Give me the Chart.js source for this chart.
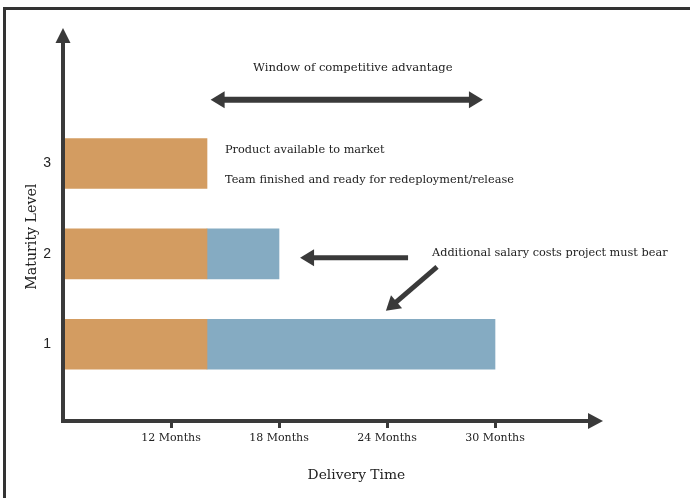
<!DOCTYPE html>
<html>
<head>
<meta charset="utf-8">
<script src="https://cdn.jsdelivr.net/npm/chart.js@4.4.1/dist/chart.umd.min.js"></script>
<style>
  html, body { margin: 0; padding: 0; background: #fff; overflow: hidden; }
  #wrap { position: relative; width: 690px; height: 498px; }
  #frame { position: absolute; left: 3px; top: 7px; width: 740px; height: 540px;
           border-left: 3px solid #333; border-top: 3px solid #333; pointer-events: none; }
</style>
</head>
<body>
<div id="wrap">
  <canvas id="myChart" width="690" height="498"></canvas>
  <div id="frame"></div>
</div>
<script>
// maturity levels, top to bottom
const levels = [3, 2, 1];
// time spans in months [start, end]
const productSpan = [[6, 14], [6, 14], [6, 14]];
const salarySpan = [null, [14, 18], [14, 30]];
const monthTicks = [12, 18, 24, 30];

// notes and arrows, in chart units (months, level)
const notes = [
    { text: 'Window of competitive advantage', x: 22.1, y: 4.06, align: 'center', size: 11.6 },
    { text: 'Product available to market', x: 15.0, y: 3.15, align: 'left', size: 11.3 },
    { text: 'Team finished and ready for redeployment/release', x: 15.0, y: 2.82, align: 'left', size: 11.3 },
    { text: 'Additional salary costs project must bear', x: 26.5, y: 2.01, align: 'left', size: 11.3 },
    { text: 'Delivery Time', x: 22.3, y: -0.45, align: 'center', size: 13.8 },
    { text: 'Maturity Level', x: 4.28, y: 2.19, align: 'center', size: 14.2, rotate: true }
];
const arrows = [
    { from: [14.2, 3.707], to: [29.33, 3.707], both: true, width: 6 },
    { from: [25.17, 1.956], to: [19.17, 1.956], both: false, width: 5 },
    { from: [26.78, 1.856], to: [23.94, 1.369], both: false, width: 5 }
];

const ink = '#3a3a3a';
const serif = "'DejaVu Serif', serif";

function arrowHead(ctx, x, y, ang, len, half) {
    ctx.beginPath();
    ctx.moveTo(x, y);
    ctx.lineTo(x - Math.cos(ang) * len - Math.sin(ang) * half, y - Math.sin(ang) * len + Math.cos(ang) * half);
    ctx.lineTo(x - Math.cos(ang) * len + Math.sin(ang) * half, y - Math.sin(ang) * len - Math.cos(ang) * half);
    ctx.closePath();
    ctx.fill();
}

function drawArrow(ctx, x1, y1, x2, y2, width, both) {
    const ang = Math.atan2(y2 - y1, x2 - x1);
    const len = 14, half = 8.5;
    const sx = both ? x1 + Math.cos(ang) * (len - 1) : x1;
    const sy = both ? y1 + Math.sin(ang) * (len - 1) : y1;
    ctx.beginPath();
    ctx.moveTo(sx, sy);
    ctx.lineTo(x2 - Math.cos(ang) * (len - 1), y2 - Math.sin(ang) * (len - 1));
    ctx.lineWidth = width;
    ctx.stroke();
    arrowHead(ctx, x2, y2, ang, len, half);
    if (both) arrowHead(ctx, x1, y1, ang + Math.PI, len, half);
}

const axisArrows = {
    id: 'axisArrows',
    afterDatasetsDraw(chart) {
        const { ctx, chartArea } = chart;
        const { left, right, top, bottom } = chartArea;
        ctx.save();
        ctx.strokeStyle = ink;
        ctx.fillStyle = ink;
        ctx.lineWidth = 4;
        ctx.beginPath();
        ctx.moveTo(left, bottom + 2);
        ctx.lineTo(left, top + 12);
        ctx.moveTo(left - 2, bottom);
        ctx.lineTo(right - 12, bottom);
        ctx.stroke();
        arrowHead(ctx, left, top, -Math.PI / 2, 15, 7.5);
        arrowHead(ctx, right, bottom, 0, 15, 8);

        const xs = chart.scales.x, ys = chart.scales.y;
        arrows.forEach(a => {
            drawArrow(ctx, xs.getPixelForValue(a.from[0]), ys.getPixelForValue(a.from[1]),
                      xs.getPixelForValue(a.to[0]), ys.getPixelForValue(a.to[1]), a.width, a.both);
        });

        ctx.fillStyle = '#222';
        ctx.textBaseline = 'middle';
        notes.forEach(n => {
            ctx.save();
            ctx.font = n.size + 'px ' + serif;
            ctx.textAlign = n.align;
            ctx.translate(xs.getPixelForValue(n.x), ys.getPixelForValue(n.y));
            if (n.rotate) ctx.rotate(-Math.PI / 2);
            ctx.fillText(n.text, 0, 0);
            ctx.restore();
        });
        ctx.restore();
    }
};

const ctx = document.getElementById('myChart').getContext('2d');
new Chart(ctx, {
    type: 'bar',
    data: {
        datasets: [{
            label: 'Product available',
            data: levels.map((l, i) => ({ y: l, x: productSpan[i] })),
            backgroundColor: '#D39C61',
            barThickness: 50,
            grouped: false
        }, {
            label: 'Additional salary',
            data: levels.map((l, i) => ({ y: l, x: salarySpan[i] })).filter(d => d.x),
            backgroundColor: '#85ABC2',
            barThickness: 50,
            grouped: false
        }]
    },
    options: {
        indexAxis: 'y',
        responsive: false,
        animation: false,
        layout: { padding: { left: 0, right: 87, top: 28, bottom: 0 } },
        scales: {
            x: {
                type: 'linear',
                min: 6,
                max: 36,
                afterBuildTicks: s => { s.ticks = monthTicks.map(v => ({ value: v })); },
                afterFit: s => { s.height = 77; },
                ticks: {
                    autoSkip: false,
                    maxRotation: 0,
                    padding: 4,
                    color: '#222',
                    font: { family: serif, size: 11 },
                    callback: v => v + ' Months'
                },
                grid: { drawOnChartArea: false, drawTicks: true, tickLength: 7, tickWidth: 3, color: ink },
                border: { display: false }
            },
            y: {
                type: 'linear',
                offset: false,
                min: 0.15,
                max: 4.5,
                afterBuildTicks: s => { s.ticks = levels.map(v => ({ value: v })); },
                afterFit: s => { s.width = 63; },
                ticks: {
                    padding: 12,
                    color: '#222',
                    font: { family: "'Liberation Sans', sans-serif", size: 14 }
                },
                grid: { display: false, drawTicks: false },
                border: { display: false }
            }
        },
        plugins: {
            legend: { display: false },
            tooltip: { enabled: false }
        }
    },
    plugins: [axisArrows]
});
</script>
</body>
</html>
